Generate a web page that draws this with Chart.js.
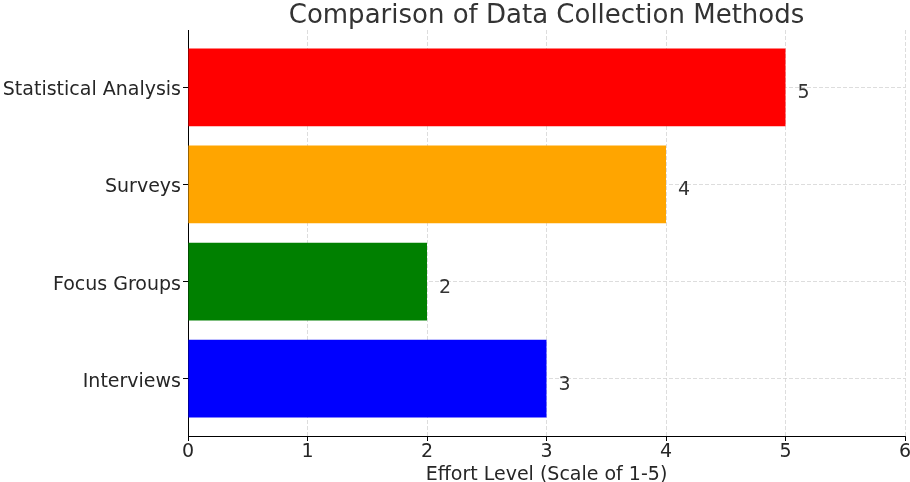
<!DOCTYPE html>
<html>
<head>
<meta charset="utf-8">
<script src="https://cdn.jsdelivr.net/npm/chart.js@4/dist/chart.umd.min.js"></script>
<style>
  html, body { margin: 0; padding: 0; background: #fff; }
  #wrap { width: 910px; height: 482px; }
</style>
</head>
<body>
<div id="wrap"><canvas id="effort"></canvas></div>
<script>
// methods listed bottom to top
var methods = ['Interviews', 'Focus Groups', 'Surveys', 'Statistical Analysis'];
var effort = [3, 2, 4, 5];
var barColors = ['#0000ff', '#008000', '#ffa500', '#ff0000'];
var xTicks = [0, 1, 2, 3, 4, 5, 6];
var chartTitle = 'Comparison of Data Collection Methods';

Chart.defaults.font.family = 'DejaVu Sans';
Chart.defaults.color = '#262626';

// title centred over the plot area, plus the value past the end of each bar
var annotate = {
  id: 'annotate',
  afterDatasetsDraw: function(chart) {
    var ctx = chart.ctx;
    var xs = chart.scales.x, ys = chart.scales.y;
    var area = chart.chartArea;
    ctx.save();
    ctx.fillStyle = '#333';
    ctx.textBaseline = 'middle';

    ctx.font = '26px "DejaVu Sans"';
    ctx.textAlign = 'center';
    ctx.fillText(chartTitle, (area.left + area.right) / 2, 16);

    ctx.font = '19px "DejaVu Sans"';
    ctx.textAlign = 'left';
    effort.forEach(function(v, i) {
      ctx.fillText(String(v), xs.getPixelForValue(v + 0.1), ys.getPixelForValue(i) + 6);
    });
    ctx.restore();
  }
};

var gridOpts = {
  color: '#d4d4d4',
  lineWidth: 0.8,
  offset: false,
  tickColor: '#000',
  tickLength: 5,
  tickWidth: 1,
  tickBorderDash: []
};
var borderOpts = { color: '#000', width: 1, dash: [4, 2] };

var ctx = document.getElementById('effort').getContext('2d');
var myChart = new Chart(ctx, {
  type: 'bar',
  data: {
    datasets: [{
      data: methods.map(function(m, i) { return { x: effort[i], y: i }; }),
      backgroundColor: barColors,
      borderWidth: 0,
      barPercentage: 0.8,
      categoryPercentage: 1
    }]
  },
  options: {
    indexAxis: 'y',
    responsive: true,
    maintainAspectRatio: false,
    animation: false,
    layout: { padding: { left: 0, right: 5, top: 30, bottom: 0 } },
    plugins: {
      legend: { display: false },
      tooltip: { enabled: false },
      title: { display: false }
    },
    scales: {
      x: {
        type: 'linear',
        min: 0,
        max: 6,
        z: 1,
        afterBuildTicks: function(s) { s.ticks = xTicks.map(function(v) { return { value: v }; }); },
        grid: gridOpts,
        border: borderOpts,
        ticks: { font: { size: 19 }, padding: 0, maxRotation: 0 },
        title: {
          display: true,
          text: 'Effort Level (Scale of 1-5)',
          font: { size: 19, lineHeight: 1 },
          padding: { top: 0, bottom: -3 }
        },
        afterFit: function(s) { s.height = 46; s.paddingLeft = 0; s.paddingRight = 0; }
      },
      y: {
        type: 'linear',
        min: -0.59,
        max: 3.59,
        offset: false,
        z: 1,
        afterBuildTicks: function(s) { s.ticks = methods.map(function(m, i) { return { value: i }; }); },
        grid: gridOpts,
        border: borderOpts,
        ticks: {
          font: { size: 19 },
          padding: 2,
          labelOffset: 3,
          callback: function(v) { return methods[v]; }
        },
        afterFit: function(s) { s.width = 188; s.paddingTop = 0; s.paddingBottom = 0; }
      }
    }
  },
  plugins: [annotate]
});
</script>
</body>
</html>
